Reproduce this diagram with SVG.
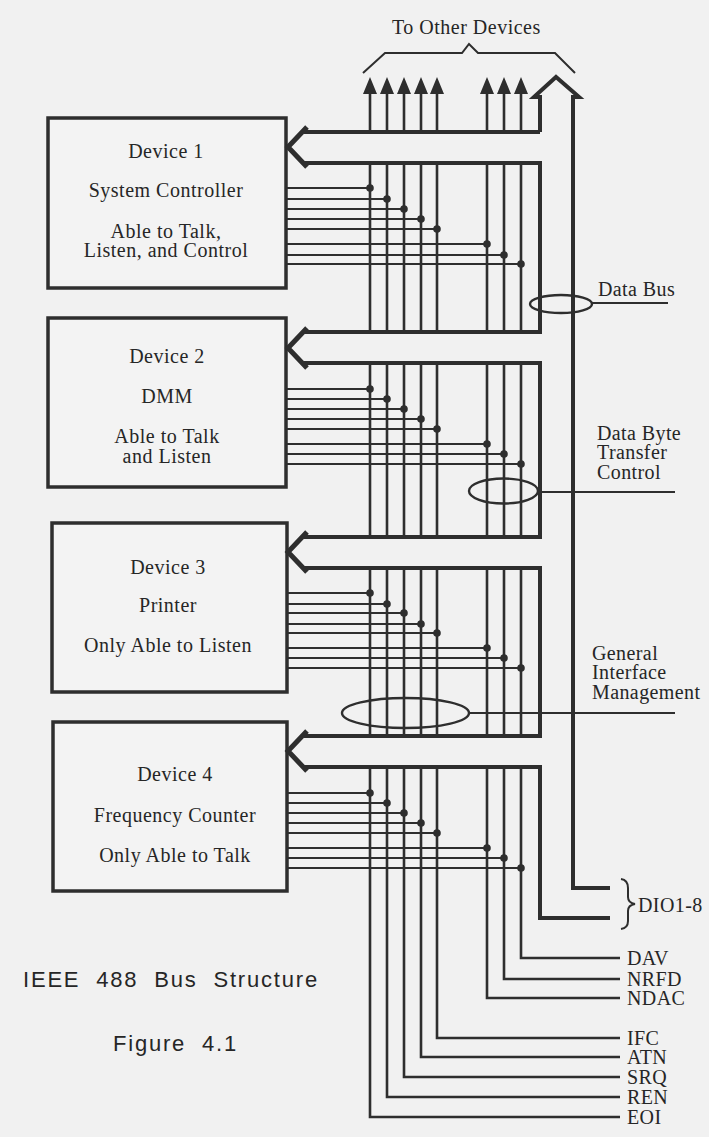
<svg xmlns="http://www.w3.org/2000/svg" width="709" height="1137" viewBox="0 0 709 1137">
<style>
.bg{fill:#f1f1f1}
.box{fill:#f3f3f3;stroke:#2e2e2e;stroke-width:3.5}
.t{font-family:"Liberation Serif","Times New Roman",serif;font-size:20px;letter-spacing:0.5px;fill:#262626}
.lab{font-family:"Liberation Serif","Times New Roman",serif;font-size:20px;letter-spacing:0.4px;fill:#262626}
.c{text-anchor:middle}
.s{font-family:"Liberation Sans",Arial,sans-serif;font-size:22px;fill:#262626;letter-spacing:1.8px;word-spacing:8px}
.pipe{fill:none;stroke:#2e2e2e;stroke-width:4;stroke-linejoin:miter}
.barb{fill:none;stroke:#2e2e2e;stroke-width:5;stroke-linejoin:miter}
.sig{fill:none;stroke:#2e2e2e;stroke-width:2.6}
.con{fill:none;stroke:#2e2e2e;stroke-width:2.2}
.dot{fill:#2e2e2e}
.ah{fill:#2e2e2e}
.ell{fill:none;stroke:#2e2e2e;stroke-width:2.4}
.thin{fill:none;stroke:#2e2e2e;stroke-width:2}
</style>
<rect class="bg" x="0" y="0" width="709" height="1137"/>

<g id="device1">
<rect class="box" x="48" y="118" width="238" height="170"/>
<text class="t c" x="166" y="158">Device 1</text>
<text class="t c" x="166" y="197">System Controller</text>
<text class="t c" x="166" y="238">Able to Talk,</text>
<text class="t c" x="166" y="257">Listen, and Control</text>
</g>
<g id="device2">
<rect class="box" x="48" y="318" width="238" height="169"/>
<text class="t c" x="167" y="363">Device 2</text>
<text class="t c" x="167" y="403">DMM</text>
<text class="t c" x="167" y="443">Able to Talk</text>
<text class="t c" x="167" y="463">and Listen</text>
</g>
<g id="device3">
<rect class="box" x="52" y="523" width="235" height="169"/>
<text class="t c" x="168" y="574">Device 3</text>
<text class="t c" x="168" y="612">Printer</text>
<text class="t c" x="168" y="652">Only Able to Listen</text>
</g>
<g id="device4">
<rect class="box" x="53" y="722" width="234" height="169"/>
<text class="t c" x="175" y="781">Device 4</text>
<text class="t c" x="175" y="822">Frequency Counter</text>
<text class="t c" x="175" y="862">Only Able to Talk</text>
</g>

<g id="connectors">
<!-- data bus pipe -->
<path class="pipe" d="M540,132 V97 H534 L556,77 L579,97 H573 V888 H610"/>
<path class="pipe" d="M304,132 H540 M304,163 H540 V332 H304 M304,363 H540 V537 H304 M304,568 H540 V736 H304 M304,767 H540 V918 H610"/>
<path class="barb" d="M307,127 L288,147 L307,167 M307,328 L288,348 L307,368 M307,532 L288,552 L307,572 M307,731 L288,751 L307,771"/>

<!-- signal lines -->
<path class="sig" d="M370,92 V132 M370,163 V332 M370,363 V537 M370,568 V736 M370,767 V1117 H620"/>
<path class="sig" d="M387,92 V132 M387,163 V332 M387,363 V537 M387,568 V736 M387,767 V1097 H620"/>
<path class="sig" d="M404,92 V132 M404,163 V332 M404,363 V537 M404,568 V736 M404,767 V1077 H620"/>
<path class="sig" d="M421,92 V132 M421,163 V332 M421,363 V537 M421,568 V736 M421,767 V1057 H620"/>
<path class="sig" d="M437,92 V132 M437,163 V332 M437,363 V537 M437,568 V736 M437,767 V1038 H620"/>
<path class="sig" d="M487,92 V132 M487,163 V332 M487,363 V537 M487,568 V736 M487,767 V998 H620"/>
<path class="sig" d="M504,92 V132 M504,163 V332 M504,363 V537 M504,568 V736 M504,767 V979 H620"/>
<path class="sig" d="M521,92 V132 M521,163 V332 M521,363 V537 M521,568 V736 M521,767 V958 H620"/>

<!-- arrowheads to other devices -->
<path class="ah" d="M363,94 L370,77 L377,94 Z M380,94 L387,77 L394,94 Z M397,94 L404,77 L411,94 Z M414,94 L421,77 L428,94 Z M430,94 L437,77 L444,94 Z M480,94 L487,77 L494,94 Z M497,94 L504,77 L511,94 Z M514,94 L521,77 L528,94 Z"/>

<!-- device 1 taps -->
<path class="con" d="M286,188 H370 M286,199 H387 M286,209 H404 M286,219 H421 M286,229 H437 M286,244 H487 M286,255 H504 M286,264 H521"/>
<g class="dot"><circle cx="370" cy="188" r="3.8"/><circle cx="387" cy="199" r="3.8"/><circle cx="404" cy="209" r="3.8"/><circle cx="421" cy="219" r="3.8"/><circle cx="437" cy="229" r="3.8"/><circle cx="487" cy="244" r="3.8"/><circle cx="504" cy="255" r="3.8"/><circle cx="521" cy="264" r="3.8"/></g>
<!-- device 2 taps -->
<path class="con" d="M286,389 H370 M286,399 H387 M286,409 H404 M286,419 H421 M286,429 H437 M286,444 H487 M286,454 H504 M286,464 H521"/>
<g class="dot"><circle cx="370" cy="389" r="3.8"/><circle cx="387" cy="399" r="3.8"/><circle cx="404" cy="409" r="3.8"/><circle cx="421" cy="419" r="3.8"/><circle cx="437" cy="429" r="3.8"/><circle cx="487" cy="444" r="3.8"/><circle cx="504" cy="454" r="3.8"/><circle cx="521" cy="464" r="3.8"/></g>
<!-- device 3 taps -->
<path class="con" d="M287,593 H370 M287,604 H387 M287,613 H404 M287,624 H421 M287,633 H437 M287,648 H487 M287,658 H504 M287,668 H521"/>
<g class="dot"><circle cx="370" cy="593" r="3.8"/><circle cx="387" cy="604" r="3.8"/><circle cx="404" cy="613" r="3.8"/><circle cx="421" cy="624" r="3.8"/><circle cx="437" cy="633" r="3.8"/><circle cx="487" cy="648" r="3.8"/><circle cx="504" cy="658" r="3.8"/><circle cx="521" cy="668" r="3.8"/></g>
<!-- device 4 taps -->
<path class="con" d="M287,793 H370 M287,803 H387 M287,813 H404 M287,823 H421 M287,833 H437 M287,848 H487 M287,858 H504 M287,868 H521"/>
<g class="dot"><circle cx="370" cy="793" r="3.8"/><circle cx="387" cy="803" r="3.8"/><circle cx="404" cy="813" r="3.8"/><circle cx="421" cy="823" r="3.8"/><circle cx="437" cy="833" r="3.8"/><circle cx="487" cy="848" r="3.8"/><circle cx="504" cy="858" r="3.8"/><circle cx="521" cy="868" r="3.8"/></g>

<!-- group ellipses and leader lines -->
<ellipse class="ell" cx="561" cy="304" rx="31" ry="9"/>
<path class="thin" d="M592,303 H668"/>
<ellipse class="ell" cx="503.5" cy="491" rx="34.5" ry="12.5"/>
<path class="thin" d="M538,492 H675"/>
<ellipse class="ell" cx="405.5" cy="713" rx="63.5" ry="15"/>
<path class="thin" d="M469,713 H675"/>

<!-- top brace -->
<path class="thin" d="M363,73 L385,53 H462 L469,44 L478,53 H555 L575,73"/>
<!-- DIO brace -->
<path class="thin" d="M621,879 Q628,880 628,888 V897 Q628,903 635,904 Q628,905 628,911 V921 Q628,928 621,929" stroke-width="2.4"/>
</g>

<g id="labels">
<text class="t" x="392" y="34">To Other Devices</text>
<text class="lab" x="598" y="296">Data Bus</text>
<text class="lab" x="597" y="440">Data Byte</text>
<text class="lab" x="597" y="459">Transfer</text>
<text class="lab" x="597" y="479">Control</text>
<text class="lab" x="592" y="660">General</text>
<text class="lab" x="592" y="679">Interface</text>
<text class="lab" x="592" y="699">Management</text>
<text class="lab" x="638" y="912">DIO1-8</text>
<text class="lab" x="627" y="965">DAV</text>
<text class="lab" x="627" y="986">NRFD</text>
<text class="lab" x="627" y="1005">NDAC</text>
<text class="lab" x="627" y="1045">IFC</text>
<text class="lab" x="627" y="1064">ATN</text>
<text class="lab" x="627" y="1084">SRQ</text>
<text class="lab" x="627" y="1104">REN</text>
<text class="lab" x="627" y="1124">EOI</text>
<text class="s" x="23" y="987">IEEE 488 Bus Structure</text>
<text class="s" x="113" y="1051">Figure 4.1</text>
</g>
</svg>
